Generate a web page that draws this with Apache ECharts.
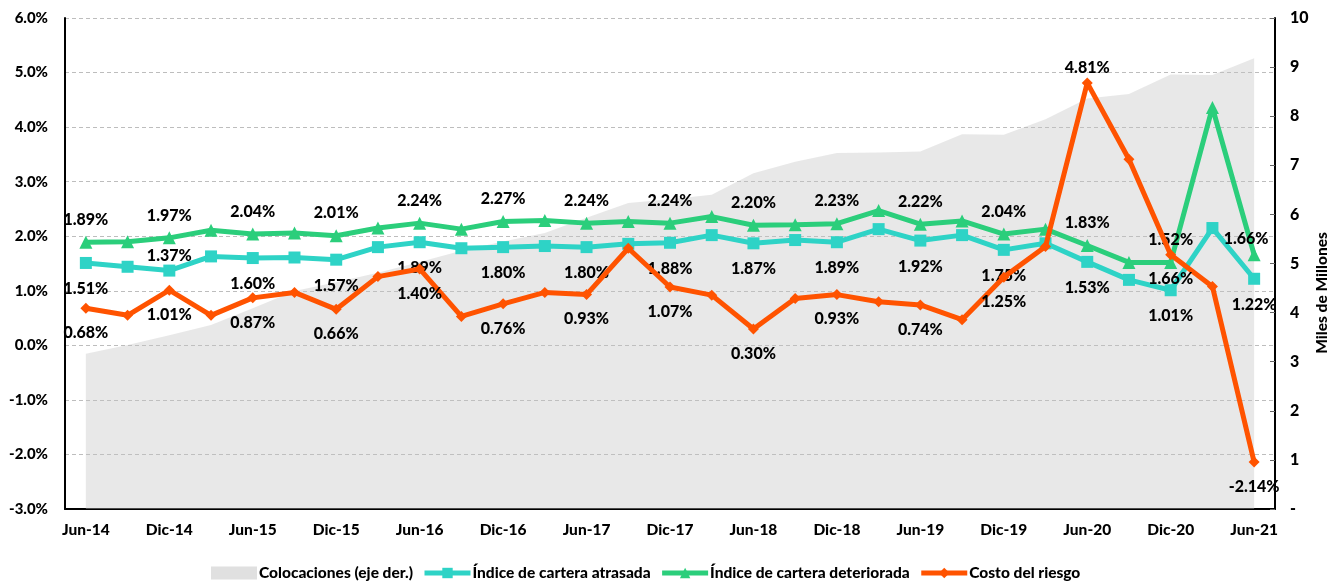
<!DOCTYPE html>
<html>
<head>
<meta charset="utf-8">
<title>Colocaciones e indicadores de riesgo</title>
<script src="https://cdn.jsdelivr.net/npm/echarts@6/dist/echarts.min.js"></script>
<style>
  html, body { margin: 0; padding: 0; background: #fff; }
  #chart { width: 1333px; height: 585px; }
</style>
</head>
<body>
<div id="chart"></div>
<script>
// Quarterly periods, Jun-14 .. Jun-21
const categories = [
  'Jun-14', 'Sep-14', 'Dic-14', 'Mar-15', 'Jun-15', 'Sep-15', 'Dic-15', 'Mar-16',
  'Jun-16', 'Sep-16', 'Dic-16', 'Mar-17', 'Jun-17', 'Sep-17', 'Dic-17', 'Mar-18',
  'Jun-18', 'Sep-18', 'Dic-18', 'Mar-19', 'Jun-19', 'Sep-19', 'Dic-19', 'Mar-20',
  'Jun-20', 'Sep-20', 'Dic-20', 'Mar-21', 'Jun-21'
];

// Loans outstanding, thousands of millions (right axis)
const colocaciones = [
  3.16, 3.34, 3.54, 3.75, 4.09, 4.44, 4.62, 4.81, 5.03, 5.26,
  5.45, 5.62, 5.93, 6.23, 6.31, 6.40, 6.84, 7.07, 7.25, 7.26,
  7.28, 7.63, 7.62, 7.94, 8.36, 8.45, 8.85, 8.84, 9.18
];

// Past-due loan ratio, %
const carteraAtrasada = [
  1.51, 1.44, 1.37, 1.63, 1.60, 1.61, 1.57, 1.80, 1.89, 1.78,
  1.80, 1.82, 1.80, 1.86, 1.88, 2.02, 1.87, 1.93, 1.89, 2.13,
  1.92, 2.02, 1.75, 1.87, 1.53, 1.20, 1.01, 2.15, 1.22
];

// Impaired loan ratio, %
const carteraDeteriorada = [
  1.89, 1.90, 1.97, 2.11, 2.04, 2.06, 2.01, 2.15, 2.24, 2.13,
  2.27, 2.29, 2.24, 2.27, 2.24, 2.36, 2.20, 2.21, 2.23, 2.47,
  2.22, 2.28, 2.04, 2.13, 1.83, 1.52, 1.52, 4.36, 1.66
];

// Cost of risk, %
const costoRiesgo = [
  0.68, 0.55, 1.01, 0.55, 0.87, 0.97, 0.66, 1.26, 1.40, 0.53,
  0.76, 0.97, 0.93, 1.78, 1.07, 0.92, 0.30, 0.86, 0.93, 0.80,
  0.74, 0.47, 1.25, 1.81, 4.81, 3.41, 1.66, 1.08, -2.14
];

// Left axis tick range (%)
const leftMin = -3, leftMax = 6, leftStep = 1;
// Right axis tick range
const rightMin = 0, rightMax = 10, rightStep = 1;

const FONT = 'Lato';
const TEXT = '#000';
const C_AREA = 'rgba(196,196,196,0.55)';
const C_TEAL = '#2ED3C6';
const C_GREEN = '#2BCE7B';
const C_ORANGE = '#FF5300';

// Labelled points: every second quarter (June / December)
function labelled(values, pos, dist, overrides) {
  return values.map((v, i) => {
    if (i % 2 !== 0) return v;
    const o = (overrides && overrides[i]) || {};
    return {
      value: v,
      label: {
        show: true,
        position: o.position || pos,
        distance: o.distance !== undefined ? o.distance : dist,
        offset: o.offset || [0, 0],
        formatter: (p) => p.value.toFixed(2) + '%'
      }
    };
  });
}

const labelStyle = {
  fontFamily: FONT, fontWeight: 900, fontSize: 16, color: TEXT
};

const chart = echarts.init(document.getElementById('chart'), null, { renderer: 'canvas' });

chart.setOption({
  animation: false,
  backgroundColor: '#fff',
  textStyle: { fontFamily: FONT },
  grid: { left: 65, right: 58, top: 18, bottom: 76, containLabel: false },
  legend: {
    bottom: -1,
    left: 206,
    itemWidth: 46,
    itemHeight: 13,
    itemGap: 9,
    textStyle: { fontFamily: FONT, fontWeight: 900, fontSize: 15.5, color: TEXT, padding: [0, 0, 0, -3] },
    data: [
      { name: 'Colocaciones (eje der.)', icon: 'rect', itemStyle: { color: '#e0e0e0', borderWidth: 0 } },
      { name: 'Índice de cartera atrasada', lineStyle: { width: 5 } },
      { name: 'Índice de cartera deteriorada', lineStyle: { width: 5 } },
      { name: 'Costo del riesgo', lineStyle: { width: 5 } }
    ]
  },
  xAxis: {
    type: 'category',
    data: categories,
    boundaryGap: true,
    axisLine: { show: true, onZero: false, lineStyle: { color: '#000', width: 2 } },
    axisTick: { show: false },
    axisLabel: {
      interval: 1,
      margin: 13,
      fontFamily: FONT, fontWeight: 900, fontSize: 15.5, color: TEXT
    },
    splitLine: { show: false }
  },
  yAxis: [
    {
      type: 'value',
      min: leftMin, max: leftMax, interval: leftStep,
      axisLine: { show: true, lineStyle: { color: '#000', width: 2 } },
      axisTick: { show: false },
      axisLabel: {
        margin: 17,
        formatter: (v) => v.toFixed(1) + '%',
        fontFamily: FONT, fontWeight: 900, fontSize: 15, color: TEXT
      },
      splitLine: { show: true, lineStyle: { color: '#bdbdbd', type: [4, 3], width: 1 } }
    },
    {
      type: 'value',
      min: rightMin, max: rightMax, interval: rightStep,
      position: 'right',
      axisLine: { show: true, lineStyle: { color: '#000', width: 2 } },
      axisTick: { show: true, inside: true, length: 5, lineStyle: { color: '#666' } },
      axisLabel: {
        margin: 15,
        formatter: (v) => (v === 0 ? '-' : String(v)),
        fontFamily: FONT, fontWeight: 900, fontSize: 16, color: TEXT
      },
      splitLine: { show: false }
    }
  ],
  graphic: [
    {
      type: 'text',
      x: 1322, y: 293,
      rotation: Math.PI / 2,
      style: {
        text: 'Miles de Millones',
        fontFamily: FONT, fontWeight: 900, fontSize: 15.5, fill: TEXT,
        align: 'center', verticalAlign: 'middle'
      }
    }
  ],
  series: [
    {
      name: 'Colocaciones (eje der.)',
      type: 'line',
      yAxisIndex: 1,
      data: colocaciones,
      symbol: 'none',
      lineStyle: { width: 0, color: '#e0e0e0' },
      itemStyle: { color: '#e0e0e0' },
      areaStyle: { color: C_AREA, origin: 'start' },
      z: 1
    },
    {
      name: 'Índice de cartera atrasada',
      type: 'line',
      data: labelled(carteraAtrasada, 'bottom', 12, { 2: { position: 'top', distance: 1 } }),
      symbol: 'rect',
      symbolSize: 12,
      lineStyle: { width: 5, color: C_TEAL },
      itemStyle: { color: C_TEAL },
      label: labelStyle,
      z: 3
    },
    {
      name: 'Índice de cartera deteriorada',
      type: 'line',
      data: labelled(carteraDeteriorada, 'top', 8, { 28: { distance: 1, offset: [-8, 0] } }),
      symbol: 'triangle',
      symbolSize: 13,
      lineStyle: { width: 5, color: C_GREEN },
      itemStyle: { color: C_GREEN },
      label: labelStyle,
      z: 4
    },
    {
      name: 'Costo del riesgo',
      type: 'line',
      data: labelled(costoRiesgo, 'bottom', 11, { 24: { position: 'top', distance: 2 } }),
      symbol: 'diamond',
      symbolSize: 11,
      lineStyle: { width: 5, color: C_ORANGE },
      itemStyle: { color: C_ORANGE },
      label: labelStyle,
      z: 5
    }
  ]
});
</script>
</body>
</html>
